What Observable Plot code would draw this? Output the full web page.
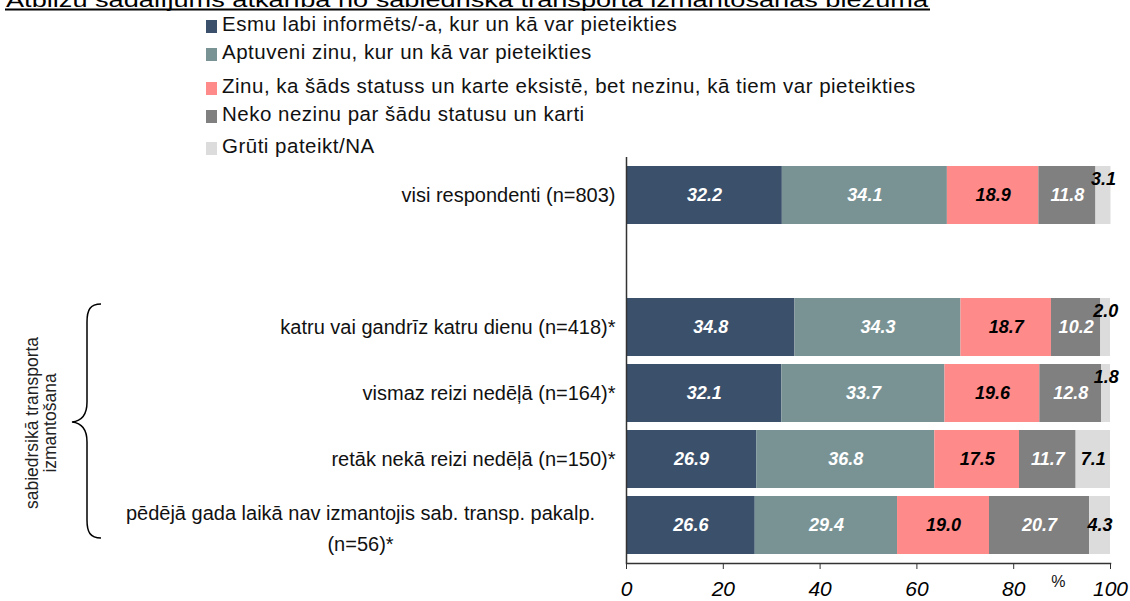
<!DOCTYPE html>
<html>
<head>
<meta charset="utf-8">
<script src="https://cdn.jsdelivr.net/npm/d3@7"></script>
<script src="https://cdn.jsdelivr.net/npm/@observablehq/plot@0.6"></script>
<style>
  html, body { margin: 0; padding: 0; background: #fff; }
  #wrap { position: relative; width: 1130px; height: 601px; overflow: hidden; font-family: "Liberation Sans", Arial, sans-serif; }
  #chart { position: absolute; left: 0; top: 0; }
  #title { position: absolute; left: 0; top: 0; }
  #legend { position: absolute; left: 206px; top: 0; }
  .lg { position: absolute; left: 0; white-space: nowrap; font-size: 20.5px; letter-spacing: 0.5px; color: #111; line-height: 20px; }
  .lg span.sw { position: absolute; left: 0; top: 6px; width: 11px; height: 13px; }
  .lg span.tx { position: absolute; left: 16px; top: 0; }
  #deco { position: absolute; left: 0; top: 0; }
</style>
</head>
<body>
<div id="wrap">
  <div id="chart"></div>
  <svg id="title" width="1130" height="14"></svg>
  <div id="legend"></div>
  <svg id="deco" width="140" height="601"></svg>
</div>
<script>
// ---- data ----
const titleText = "Atbilžu sadalījums atkarībā no sabiedriskā transporta izmantošanas biežuma";
const series = [
  "Esmu labi informēts/-a, kur un kā var pieteikties",
  "Aptuveni zinu, kur un kā var pieteikties",
  "Zinu, ka šāds statuss un karte eksistē, bet nezinu, kā tiem var pieteikties",
  "Neko nezinu par šādu statusu un karti",
  "Grūti pateikt/NA"
];
const seriesColors = ["#3b506b", "#799395", "#ff8a8a", "#808080", "#dcdcdc"];
const rowLabels = [
  "visi respondenti (n=803)",
  "katru vai gandrīz katru dienu (n=418)*",
  "vismaz reizi nedēļā (n=164)*",
  "retāk nekā reizi nedēļā (n=150)*",
  "pēdējā gada laikā nav izmantojis sab. transp. pakalp.\n(n=56)*"
];
const informedWell   = [32.2, 34.8, 32.1, 26.9, 26.6];
const roughlyKnow    = [34.1, 34.3, 33.7, 36.8, 29.4];
const knowExists     = [18.9, 18.7, 19.6, 17.5, 19.0];
const knowNothing    = [11.8, 10.2, 12.8, 11.7, 20.7];
const hardToSay      = [3.1, 2.0, 1.8, 7.1, 4.3];
const xTicks = [0, 20, 40, 60, 80, 100];
const groupLabel = ["sabiedrsikā transporta", "izmantošana"];
const unitLabel = "%";

// ---- table for Plot ----
const seriesValues = [informedWell, roughlyKnow, knowExists, knowNothing, hardToSay];
const table = [];
rowLabels.forEach((row, r) => {
  series.forEach((s, k) => {
    table.push({row, series: s, k, value: seriesValues[k][r]});
  });
});
const yDomain = [rowLabels[0], " ", ...rowLabels.slice(1)];
const fmt = d => d.value.toFixed(1);
const labelFont = {fontSize: 18, fontWeight: "bold", fontStyle: "italic"};
const stackOpts = {x: "value", y: "row", z: "series", order: null, text: fmt};

const chart = Plot.plot({
  width: 1130,
  height: 601,
  marginLeft: 626,
  marginRight: 20,
  marginTop: 157,
  marginBottom: 38,
  style: {fontFamily: "'Liberation Sans', Arial, sans-serif", fontSize: "20px", background: "transparent", color: "#000"},
  x: {domain: [0, 100], axis: null},
  y: {domain: yDomain, paddingInner: 0.12, paddingOuter: 0.09, axis: null},
  color: {domain: series, range: seriesColors},
  marks: [
    Plot.barX(table, Plot.stackX({x: "value", y: "row", fill: "series", order: null})),
    // white labels
    Plot.text(table, Plot.filter(d => d.k === 0 || d.k === 1 || d.k === 3,
      Plot.stackX({...stackOpts, fill: "white", ...labelFont}))),
    // black labels
    Plot.text(table, Plot.filter(d => d.k === 2 || (d.k === 4 && d.value >= 4),
      Plot.stackX({...stackOpts, fill: "black", ...labelFont}))),
    // small black labels raised above
    Plot.text(table, Plot.filter(d => d.k === 4 && d.value < 4,
      Plot.stackX({...stackOpts, fill: "black", dy: -16, ...labelFont}))),
    // category labels
    Plot.text(rowLabels.filter(d => !d.includes("\n")), {y: d => d, text: d => d, frameAnchor: "left", textAnchor: "end", dx: -11, fontSize: 20, fill: "#111"}),
    Plot.text(rowLabels.filter(d => d.includes("\n")), {y: d => d, text: d => d, frameAnchor: "left", textAnchor: "middle", dx: -266, lineHeight: 1.55, fontSize: 20, fill: "#111"}),
    // axes lines
    Plot.ruleX([0], {stroke: "#333", strokeWidth: 1.5}),
    Plot.frame({anchor: "bottom", stroke: "#333", strokeWidth: 1.5}),
    Plot.axisX(xTicks, {tickSize: 6, tickPadding: 12, fontSize: 21, fontStyle: "italic", label: null, stroke: "#333", fill: "#000"}),
    Plot.text([unitLabel], {frameAnchor: "bottom-right", text: d => d, dx: -45, dy: 23, fontSize: 16, fill: "#111"})
  ]
});
document.getElementById("chart").appendChild(chart);

// ---- title (cut off at the top, underlined) ----
const tsvg = d3.select("#title");
tsvg.append("text").attr("x", 6).attr("y", 6.5).attr("textLength", 922).attr("lengthAdjust", "spacingAndGlyphs")
  .attr("font-size", 20).attr("font-family", "'Liberation Sans', Arial, sans-serif").attr("fill", "#000").text(titleText);
tsvg.append("line").attr("x1", 5).attr("x2", 930).attr("y1", 9.5).attr("y2", 9.5).attr("stroke", "#000").attr("stroke-width", 2);

// ---- legend ----
const legendTops = [14, 42, 76, 104, 136];
const lg = d3.select("#legend");
series.forEach((s, i) => {
  const item = lg.append("div").attr("class", "lg").style("top", legendTops[i] + "px");
  item.append("span").attr("class", "sw").style("background", seriesColors[i]);
  item.append("span").attr("class", "tx").text(s);
});

// ---- group brace and rotated label ----
const deco = d3.select("#deco");
deco.append("path")
  .attr("d", "M101,304 C90,304 87,310 87,322 L87,402 C87,415 82,421 72,422 C82,423 87,429 87,442 L87,520 C87,532 90,538 101,538")
  .attr("fill", "none").attr("stroke", "#000").attr("stroke-width", 1.5);
const gl = deco.append("text").attr("transform", "translate(0,423) rotate(-90)")
  .attr("text-anchor", "middle").attr("font-size", 17.5).attr("font-family", "'Liberation Sans', Arial, sans-serif").attr("fill", "#222");
gl.append("tspan").attr("x", 0).attr("y", 38).text(groupLabel[0]);
gl.append("tspan").attr("x", 0).attr("y", 56).text(groupLabel[1]);
</script>
</body>
</html>
